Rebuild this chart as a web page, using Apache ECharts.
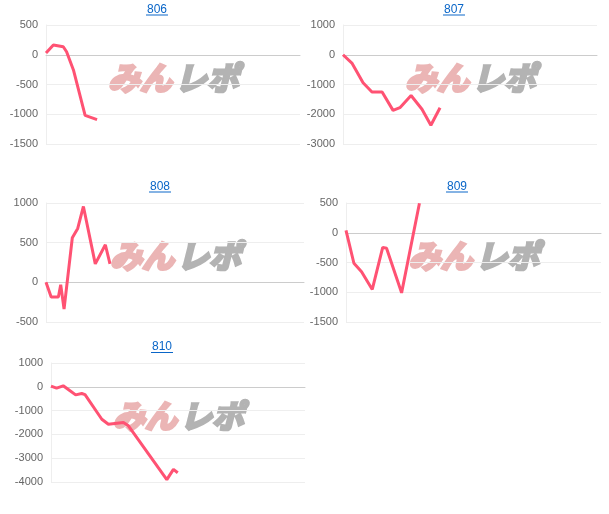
<!DOCTYPE html>
<html><head><meta charset="utf-8">
<script src="https://cdn.jsdelivr.net/npm/echarts@6/dist/echarts.min.js"></script>
<style>html,body{margin:0;padding:0;background:#fff}#c{width:609px;height:514px}</style>
</head><body><div id="c"></div>
<script>
// chart titles
const titles = ['806', '807', '808', '809', '810'];
// y-axis ranges / intervals
const yMin = [-1500, -3000, -500, -1500, -4000];
const yMax = [500, 1000, 1000, 500, 1000];
const yInterval = [500, 1000, 500, 500, 1000];
// x positions (0-100 scale across the plot) and values per chart
const x806 = [0, 2.9, 6.8, 8.1, 10.8, 15.4, 20.1];
const y806 = [30, 165, 135, 50, -255, -1020, -1090];
const x807 = [0, 3.5, 7.9, 11.4, 15.4, 19.7, 22.4, 26.8, 31.1, 34.6, 38.2];
const y807 = [0, -280, -940, -1250, -1250, -1870, -1780, -1370, -1830, -2370, -1780];
const x808 = [0, 2, 4.8, 5.7, 7, 10.2, 12.3, 14.5, 19.1, 23, 24.8];
const y808 = [0, -184, -184, -30, -338, 562, 680, 956, 233, 474, 233];
const x809 = [0, 3.1, 6.1, 10.3, 14.4, 15.9, 21.8, 28.8];
const y809 = [40, -513, -656, -953, -246, -260, -1010, 496];
const x810 = [0, 2.2, 4.8, 7.5, 9.7, 12.1, 13.4, 20, 22.6, 28.5, 30.5, 45.6, 48.2, 49.9];
const y810 = [30, -55, 42, -169, -338, -280, -330, -1363, -1574, -1500, -1640, -3900, -3470, -3610];

const xs = [x806, x807, x808, x809, x810];
const ys = [y806, y807, y808, y809, y810];

// layout
const grids = [
  {left: 46, top: 25, width: 254, height: 119},
  {left: 343, top: 25, width: 254, height: 119},
  {left: 46, top: 203, width: 258, height: 119},
  {left: 346, top: 203, width: 255, height: 119},
  {left: 51, top: 363, width: 254, height: 119}
];
const titlePos = [[157, 9.5], [454, 9.5], [160, 186.5], [457, 186.5], [162, 347]];

const font = '"Liberation Sans", Arial, sans-serif';
const option = {
  animation: false,
  grid: grids,
  xAxis: grids.map((g, i) => ({
    type: 'value', gridIndex: i, min: 0, max: 100,
    axisLabel: {show: false}, axisTick: {show: false}, splitLine: {show: false},
    axisLine: {show: true, onZero: true, lineStyle: {color: '#cccccc', width: 1}}
  })),
  yAxis: grids.map((g, i) => ({
    type: 'value', gridIndex: i, min: yMin[i], max: yMax[i], interval: yInterval[i],
    axisLabel: {color: '#666666', fontSize: 11, fontFamily: font, margin: 8, formatter: v => String(v)},
    axisTick: {show: false},
    axisLine: {show: true, lineStyle: {color: '#eeeeee'}},
    splitLine: {show: true, lineStyle: {color: '#eeeeee'}}
  })),
  series: ys.map((arr, i) => ({
    type: 'line', xAxisIndex: i, yAxisIndex: i,
    data: arr.map((v, k) => [xs[i][k], v]),
    showSymbol: false, symbol: 'none',
    lineStyle: {color: '#ff5273', width: 3},
    z: 5
  })),
  graphic: []
};

titles.forEach((t, i) => {
  const [cx, cy] = titlePos[i];
  option.graphic.push({
    type: 'text', x: cx, y: cy, z: 10,
    style: {text: t, fill: '#0a66c8', font: '12px ' + font, textAlign: 'center', textVerticalAlign: 'middle'}
  });
  option.graphic.push({
    type: 'rect', shape: {x: cx - 11, y: cy + 5, width: 22, height: 1}, z: 10,
    style: {fill: '#0a66c8'}
  });
  const g = grids[i];
  const wx = g.left + g.width / 2;
  const wy = g.top + g.height / 2 - 7;
  option.graphic.push({
    type: 'text', x: wx - 1, y: wy, z: 0, silent: true,
    style: {text: 'みん', fill: '#ebb5b5', stroke: '#ebb5b5', lineWidth: 3, font: 'italic bold 32px "Noto Sans CJK JP"', textAlign: 'right', textVerticalAlign: 'middle'}
  });
  option.graphic.push({
    type: 'text', x: wx + 2, y: wy, z: 0, silent: true,
    style: {text: 'レポ', fill: '#b3b3b3', stroke: '#b3b3b3', lineWidth: 3, font: 'italic bold 32px "Noto Sans CJK JP"', textAlign: 'left', textVerticalAlign: 'middle'}
  });
});

const chart = echarts.init(document.getElementById('c'), null, {renderer: 'canvas'});
chart.setOption(option);
</script></body></html>
